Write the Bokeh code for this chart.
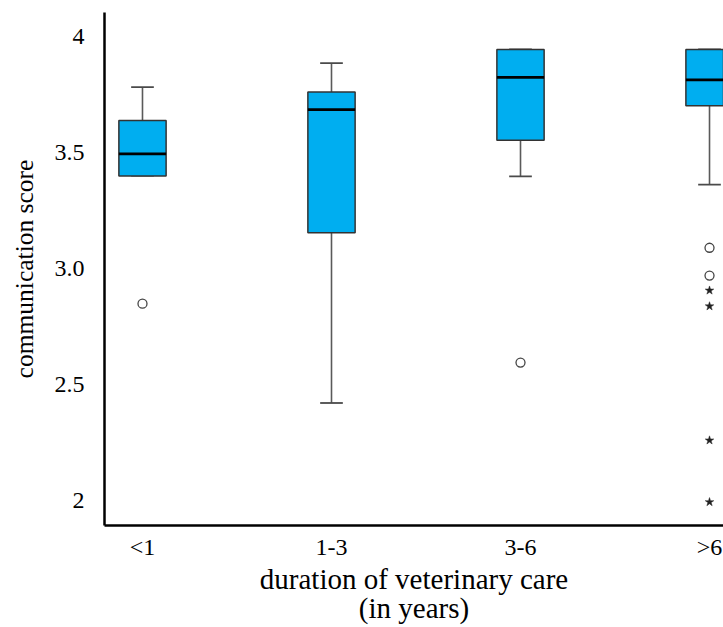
from bokeh.plotting import figure
from bokeh.models import FixedTicker, Range1d
from bokeh.embed import file_html
from bokeh.resources import INLINE

# ---- data ----
groups = ["<1", "1-3", "3-6", ">6"]
group_pos = [0, 1, 2, 3]
whisker_low = [3.40, 2.42, 3.397, 3.361]
q1 = [3.398, 3.154, 3.552, 3.701]
median = [3.494, 3.684, 3.823, 3.813]
q3 = [3.638, 3.760, 3.944, 3.944]
whisker_high = [3.781, 3.885, 3.944, 3.944]

outlier_pos = [0, 2, 3, 3]
outlier_value = [2.848, 2.594, 3.089, 2.969]
extreme_pos = [3, 3, 3, 3]
extreme_value = [2.905, 2.837, 2.259, 1.993]

y_ticks = [2, 2.5, 3.0, 3.5, 4]
y_tick_labels = ["2", "2.5", "3.0", "3.5", "4"]

FONT = "Liberation Serif"
BOX_W = 0.25
CAP_W = 0.12

p = figure(width=723, height=627, output_backend="svg", toolbar_location=None,
           x_range=Range1d(-0.201, 3.074), y_range=Range1d(1.892, 4.103),
           min_border_left=104, min_border_right=0, min_border_top=12, min_border_bottom=102)
p.outline_line_color = None
p.xgrid.visible = False
p.ygrid.visible = False

# whiskers
p.segment(x0=group_pos, y0=q3, x1=group_pos, y1=whisker_high, line_color="#5a5a5a", line_width=1.6)
p.segment(x0=group_pos, y0=q1, x1=group_pos, y1=whisker_low, line_color="#5a5a5a", line_width=1.6)
p.segment(x0=[g - CAP_W / 2 for g in group_pos], y0=whisker_high,
          x1=[g + CAP_W / 2 for g in group_pos], y1=whisker_high, line_color="#4a4a4a", line_width=1.8)
p.segment(x0=[g - CAP_W / 2 for g in group_pos], y0=whisker_low,
          x1=[g + CAP_W / 2 for g in group_pos], y1=whisker_low, line_color="#4a4a4a", line_width=1.8)

# boxes
p.vbar(x=group_pos, width=BOX_W, bottom=q1, top=q3, fill_color="#00AEF0",
       line_color="#333333", line_width=1.5)
# medians
p.segment(x0=[g - BOX_W / 2 for g in group_pos], y0=median,
          x1=[g + BOX_W / 2 for g in group_pos], y1=median, line_color="black", line_width=2.8)

# outliers
p.scatter(x=outlier_pos, y=outlier_value, marker="circle", size=9, fill_color="white",
          line_color="#444444", line_width=1.3)
p.scatter(x=extreme_pos, y=extreme_value, marker="star", size=9, fill_color="#222222",
          line_color="#222222", line_width=0.5)

# axes
p.xaxis.ticker = FixedTicker(ticks=group_pos)
p.xaxis.major_label_overrides = {g: lab for g, lab in zip(group_pos, groups)}
p.yaxis.ticker = FixedTicker(ticks=y_ticks)
p.yaxis.major_label_overrides = {t: lab for t, lab in zip(y_ticks, y_tick_labels)}

for ax in (p.xaxis, p.yaxis):
    ax.axis_line_color = "black"
    ax.axis_line_width = 2.5
    ax.major_tick_line_color = None
    ax.minor_tick_line_color = None
    ax.major_label_text_font = FONT
    ax.major_label_text_font_size = "24px"
    ax.major_label_text_color = "black"
    ax.axis_label_text_font = FONT
    ax.axis_label_text_font_style = "normal"
    ax.axis_label_text_color = "black"

p.xaxis.axis_label = "duration of veterinary care\n(in years)"
p.yaxis.axis_label = "communication score"
p.xaxis.axis_label_text_font_size = "29px"
p.xaxis.axis_label_text_line_height = 0.92
p.yaxis.axis_label_text_font_size = "25.5px"
p.xaxis.major_label_standoff = 2
p.yaxis.major_label_standoff = 14
p.xaxis.axis_label_standoff = 0
p.yaxis.axis_label_standoff = 13

open("out.html", "w").write(file_html(p, INLINE))
